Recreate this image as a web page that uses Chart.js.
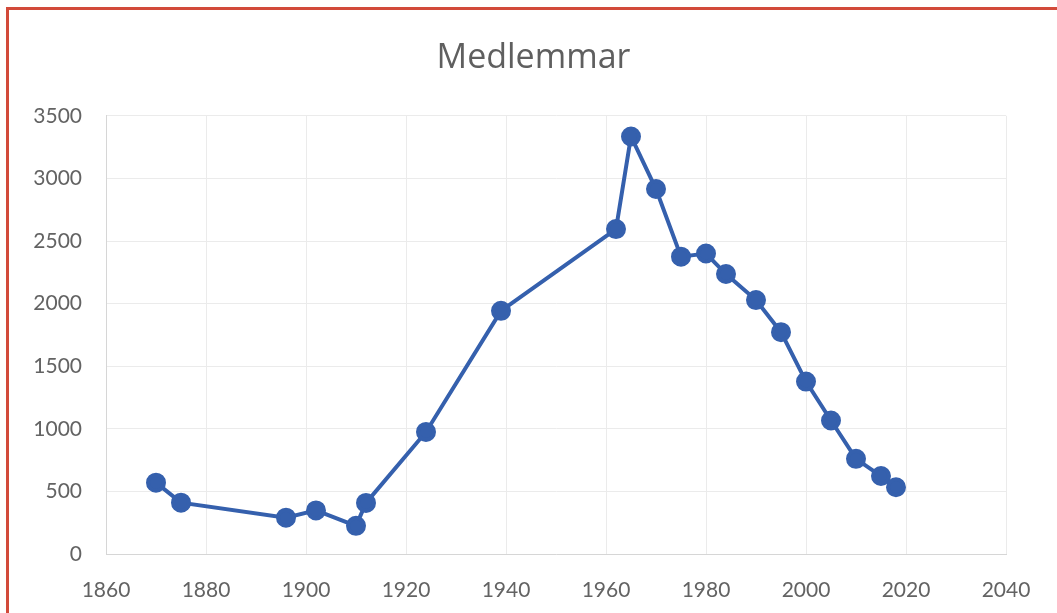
<!DOCTYPE html>
<html>
<head>
<meta charset="utf-8">
<script src="https://cdn.jsdelivr.net/npm/chart.js@4"></script>
<style>
  html, body { margin: 0; padding: 0; background: #fff; overflow: hidden; }
  #frame {
    position: absolute; left: 6px; top: 7px; width: 1200px; height: 800px;
    border-top: 3px solid #d24a3a; border-left: 3px solid #d24a3a;
  }
  #wrap { position: absolute; left: 0; top: 0; width: 1057px; height: 613px; }
</style>
</head>
<body>
<div id="frame"></div>
<div id="wrap"><canvas id="chart" width="1057" height="613"></canvas></div>
<script>
// ===== Data =====
const years = [1870, 1875, 1896, 1902, 1910, 1912, 1924, 1939, 1962, 1965, 1970, 1975, 1980, 1984, 1990, 1995, 2000, 2005, 2010, 2015, 2018];
const members = [570, 410, 290, 348, 225, 408, 975, 1942, 2595, 3335, 2915, 2375, 2400, 2236, 2028, 1772, 1377, 1066, 760, 623, 533];
const xTicks = [1860, 2040, 20];   // min, max, step
const yTicks = [0, 3500, 500];

const blue = "#3560ad";
const gridColor = "#ebebeb";
const labelColor = "#636363";
const font = "Lato, 'Open Sans', sans-serif";

// ===== Chart =====
const points = years.map((y, i) => ({ x: y, y: members[i] }));

new Chart(document.getElementById("chart").getContext("2d"), {
  type: "scatter",
  data: {
    datasets: [{
      label: "Medlemmar",
      data: points,
      showLine: true,
      borderColor: blue,
      backgroundColor: blue,
      borderWidth: 4,
      pointRadius: 8,
      pointHoverRadius: 8
    }]
  },
  options: {
    responsive: false,
    animation: false,
    layout: { padding: { left: 10, right: 0, top: 0, bottom: 0 } },
    plugins: {
      legend: { display: false },
      tooltip: { enabled: false },
      title: {
        display: true,
        text: "Medlemmar",
        color: "#5f5f5f",
        font: { family: "'Open Sans', sans-serif", size: 34, weight: "normal" },
        padding: { top: 38, bottom: 37 }
      }
    },
    scales: {
      x: {
        type: "linear",
        min: xTicks[0],
        max: xTicks[1],
        afterFit: s => { s.height = 59; },
        ticks: {
          stepSize: xTicks[2],
          color: labelColor,
          padding: 24,
          font: { family: font, size: 21 },
          callback: v => String(v)
        },
        grid: { color: gridColor, drawTicks: false },
        border: { color: "#d6d6d6", width: 1 }
      },
      y: {
        min: yTicks[0],
        max: yTicks[1],
        afterFit: s => { s.width = 96; },
        ticks: {
          stepSize: yTicks[2],
          color: labelColor,
          padding: 24,
          font: { family: font, size: 21 },
          callback: v => String(v)
        },
        grid: { color: gridColor, drawTicks: false },
        border: { color: "#d6d6d6", width: 1 }
      },
      // empty right-hand axis, only to keep the plot off the right edge
      spacer: {
        type: "linear",
        position: "right",
        display: true,
        afterFit: s => { s.width = 51; },
        ticks: { display: false },
        grid: { display: false, drawTicks: false },
        border: { display: false }
      }
    }
  }
});
</script>
</body>
</html>
